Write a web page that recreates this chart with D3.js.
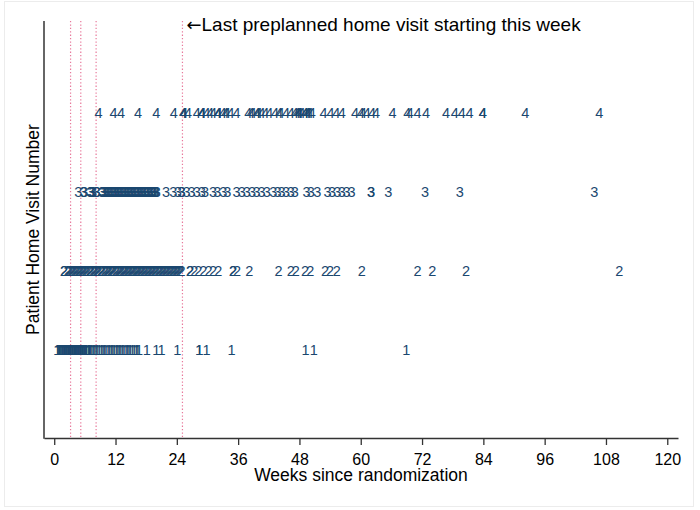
<!DOCTYPE html>
<html><head><meta charset="utf-8">
<script src="https://cdn.jsdelivr.net/npm/d3@7"></script>
<style>body{margin:0;background:#fff;} text{font-family:"Liberation Sans",Arial,sans-serif;}</style>
</head><body><svg id="c" width="700" height="510"></svg>
<script>
// weeks since randomization of each home visit, by visit number
const visit1 = [0.6,0.7,0.9,1.0,1.1,1.3,1.5,1.6,1.8,1.9,2.0,2.1,2.3,2.4,2.6,2.7,2.8,3.0,3.0,3.1,3.2,3.4,3.5,3.6,3.8,3.9,4.0,4.1,4.2,4.3,4.5,4.6,4.7,4.9,
  5.0,5.1,5.2,5.4,5.5,5.6,5.8,5.9,6.1,6.2,6.3,6.6,6.8,6.9,7.0,7.3,7.6,7.9,8.2,8.5,8.8,9.2,9.5,9.8,10.1,10.5,10.8,11.1,11.4,11.7,12.1,12.4,
  12.7,13.0,13.3,13.6,14.0,14.3,14.6,14.9,15.3,15.6,16.0,16.3,16.6,18.1,20.0,21.0,24.1,28.4,28.4,29.8,34.7,49.2,50.8,68.9];
const visit2 = [1.9,1.9,2.6,2.8,3.0,3.3,3.5,3.7,4.0,4.2,4.4,4.7,4.9,5.1,5.4,5.6,5.8,6.1,6.3,6.5,6.9,7.0,7.2,7.6,7.8,8.0,8.3,8.5,8.7,9.1,9.2,
  9.4,9.8,10.0,10.3,10.5,10.7,11.0,11.2,11.4,11.6,12.0,12.2,12.5,12.7,12.9,13.1,13.4,13.6,13.8,14.0,14.3,14.5,14.7,15.0,15.2,15.4,15.6,
  15.9,16.1,16.3,16.5,16.8,17.0,17.2,17.5,17.7,17.9,18.2,18.4,18.6,18.9,19.1,19.3,19.6,19.8,20.0,20.3,20.5,20.7,21.0,21.2,21.4,21.7,
  21.9,22.1,22.4,22.6,22.8,23.1,23.3,23.5,23.8,24.0,24.2,24.5,24.7,24.9,
  26.6,26.6,27.4,28.2,29.2,30.2,31.1,32.1,35.0,35.0,35.8,38.2,43.9,46.3,47.3,49.1,50.1,53.0,54.0,55.3,60.2,71.1,74.0,80.6,110.6];
const visit3 = [4.7,5.7,5.9,7.1,7.1,7.4,7.6,8.3,8.3,9.3,9.5,9.6,9.9,10.1,10.3,10.6,10.8,11.0,11.3,11.5,11.6,11.9,12.0,12.2,12.5,12.7,12.9,
  13.2,13.4,13.5,13.8,14.0,14.2,14.5,14.7,14.8,15.1,15.3,15.5,15.8,16.0,16.1,16.4,16.6,16.8,17.1,17.3,17.4,17.8,17.9,18.1,18.4,18.6,18.7,
  19.1,19.2,19.4,19.7,19.9,20.1,21.9,23.3,24.2,24.9,24.9,25.9,26.9,27.9,28.9,29.5,31.1,31.9,
  33.1,33.9,35.7,36.7,37.7,38.7,39.6,40.6,41.6,42.9,43.7,44.5,45.4,46.3,47.1,49.4,50.2,51.5,53.5,54.4,55.4,56.3,57.2,58.2,62.0,62.0,65.4,72.6,79.4,105.7];
const visit4 = [8.7,11.6,13.1,16.4,20.0,23.4,25.2,25.3,25.4,26.2,27.9,28.9,28.9,29.0,29.8,30.5,31.1,32.0,32.1,32.1,33.0,33.5,33.8,34.5,35.7,38.0,38.5,38.8,39.7,39.7,
  40.0,40.6,41.3,42.1,43.2,44.0,44.3,45.4,46.3,47.1,47.5,47.8,47.8,48.0,48.4,49.1,49.1,49.5,49.7,50.0,50.4,52.7,54.1,55.2,56.3,58.9,60.0,60.4,61.2,62.2,63.0,66.2,
  69.1,69.6,71.1,72.8,76.7,78.4,79.8,81.3,83.9,83.9,92.2,106.7];
const visitNumbers = [1,2,3,4];
const refLines = [3.2, 5.2, 8.2, 25.1];
const xTicks = [0,12,24,36,48,60,72,84,96,108,120];
const xTitle = "Weeks since randomization";
const yTitle = "Patient Home Visit Number";
const arrowText = "\u2190";
const annotation = "Last preplanned home visit starting this week";

const svg = d3.select("#c");
svg.append("rect").attr("x",0).attr("y",0).attr("width",700).attr("height",510).attr("fill","#fff");
svg.append("rect").attr("x",4.5).attr("y",1.5).attr("width",689).attr("height",505)
  .attr("fill","none").attr("stroke","#ececec").attr("stroke-width",1);

const x = d3.scaleLinear().domain([-2, 122.1]).range([44, 678]);
const y = d3.scaleLinear().domain([-0.12, 5.158]).range([438, 21]);

// reference lines
svg.append("g").selectAll("line").data(refLines).join("line")
  .attr("x1",d=>x(d)).attr("x2",d=>x(d)).attr("y1",y.range()[1]).attr("y2",y.range()[0])
  .attr("stroke","#e8799b").attr("stroke-width",1.2).attr("stroke-dasharray","1.3,2.1");

// marker labels
const series = [visit1, visit2, visit3, visit4];
const pts = [];
series.forEach((arr,i)=>arr.forEach(w=>pts.push({w, v: visitNumbers[i]})));
svg.append("g").selectAll("text").data(pts).join("text")
  .attr("x",d=>x(d.w)).attr("y",d=>y(d.v)).attr("dy","0.36em")
  .attr("text-anchor","middle").attr("font-size",14.5).attr("fill","#1a476f")
  .text(d=>d.v);

// x axis
const xa = svg.append("g").attr("transform","translate(0,438)")
  .call(d3.axisBottom(x).tickValues(xTicks).tickSize(7).tickPadding(9).tickSizeOuter(0));
xa.select(".domain").attr("stroke","#333").attr("stroke-width",1.5);
xa.selectAll(".tick line").attr("stroke","#333").attr("stroke-width",1.3);
xa.selectAll(".tick text").attr("font-size",16).attr("fill","#000")
  .attr("font-family","'Liberation Sans',Arial,sans-serif");

// y axis line
svg.append("line").attr("x1",44).attr("x2",44).attr("y1",y.range()[1]).attr("y2",438.7)
  .attr("stroke","#333").attr("stroke-width",1.5);

// titles
svg.append("text").attr("x",(x(-2)+x(122.1))/2).attr("y",481).attr("text-anchor","middle")
  .attr("font-size",17.5).attr("fill","#000").text(xTitle);
svg.append("text").attr("transform","translate(39,"+((y.range()[0]+y.range()[1])/2)+") rotate(-90)").attr("text-anchor","middle")
  .attr("font-size",17.5).attr("fill","#000").text(yTitle);

const ann = svg.append("text").attr("x",x(refLines[3])+4).attr("y",31).attr("font-size",19).attr("fill","#000");
ann.append("tspan").attr("font-family","'DejaVu Sans',sans-serif").attr("font-size",18).text(arrowText);
ann.append("tspan").text(annotation);
</script></body></html>
